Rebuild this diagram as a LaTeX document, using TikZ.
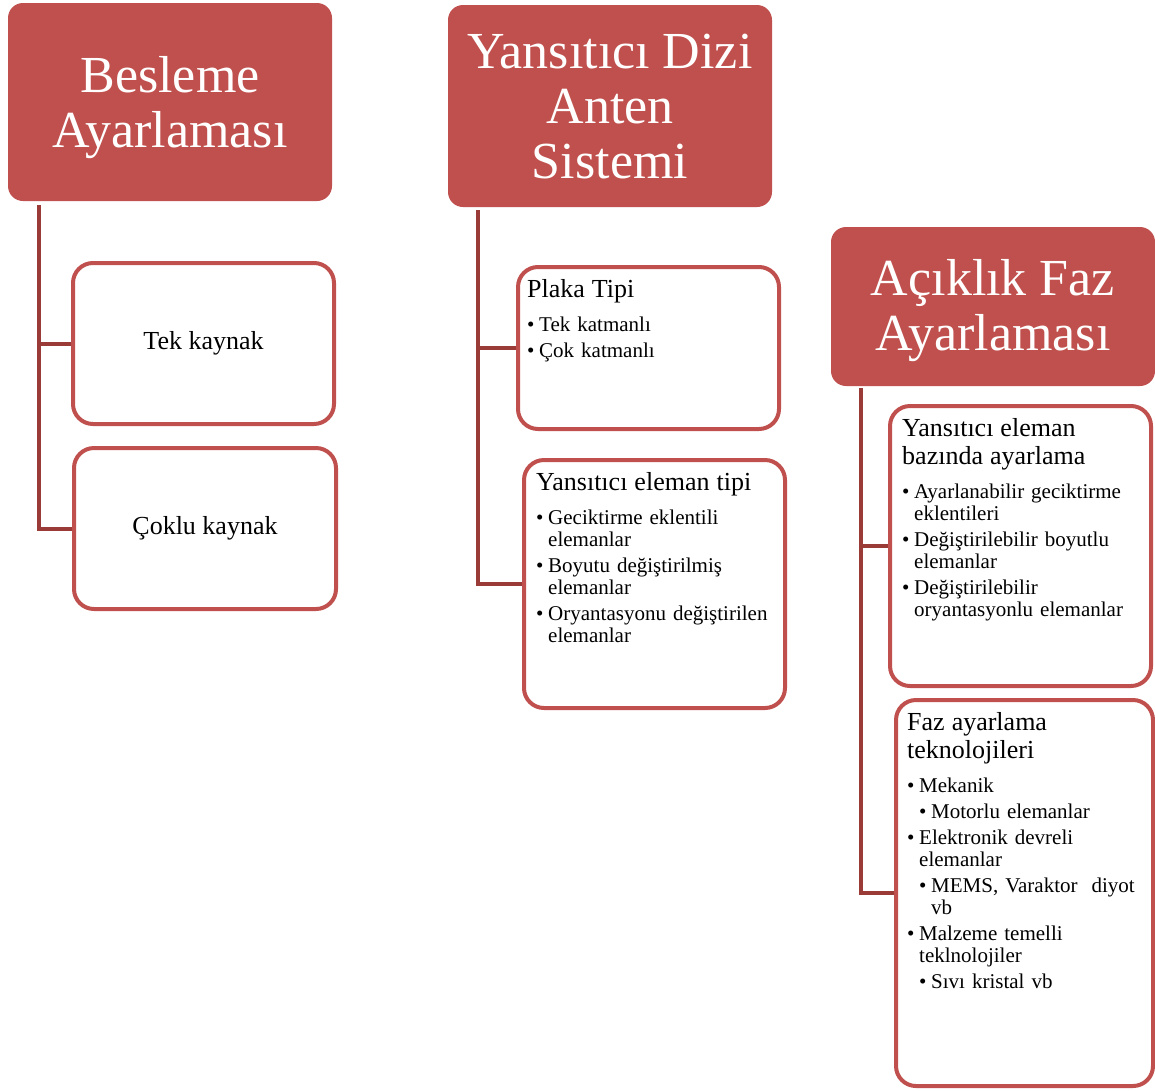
\documentclass[tikz,border=0pt]{standalone}
\usepackage{fontspec}
\setmainfont{Liberation Serif}
\definecolor{headred}{HTML}{C0504D}
\definecolor{linkred}{HTML}{9B3B38}
\newcommand{\bitem}[1]{\par\vspace{4pt}\hangindent=12pt\hangafter=1\noindent\makebox[12pt][l]{\textbullet}#1}
\newcommand{\bsubitem}[1]{\par\vspace{4pt}\hangindent=24pt\hangafter=1\noindent\hspace*{12pt}\makebox[12pt][l]{\textbullet}#1}
\newcommand{\btitle}[1]{{\fontsize{26}{28}\selectfont #1\par}\vspace{8pt}}
\tikzset{
  head/.style={fill=headred, rounded corners=15pt, inner sep=0pt},
  headtext/.style={text=white, align=center, inner sep=0pt, font=\fontsize{52}{55}\selectfont},
  leaf/.style={draw=headred, fill=white, line width=4pt, rounded corners=20pt, inner sep=0pt, font=\fontsize{26}{28}\selectfont},
  leaftext/.style={anchor=north west, inner sep=0pt, text width=250pt, align=left, font=\fontsize{21}{22}\selectfont},
  conn/.style={draw=linkred, line width=4pt}
}
\begin{document}
\begin{tikzpicture}[x=1pt, y=-1pt, line join=miter]
    \useasboundingbox (0,0) rectangle (1155,1090);
    % basliklar
    \node[head, minimum width=324pt, minimum height=198pt] (besleme) at (170,102) {};
    \node[head, minimum width=324pt, minimum height=202pt] (anten) at (610,106) {};
    \node[head, minimum width=324pt, minimum height=159pt] (faz) at (993,306.5) {};
    \node[headtext] (beslemetxt) at ([yshift=-6pt]besleme.center) {Besleme\\Ayarlaması};
    \node[headtext] (antentxt) at ([yshift=-1pt]anten.center) {Yansıtıcı Dizi\\Anten\\Sistemi};
    \node[headtext] (faztxt) at ([yshift=-4pt]faz.center) {Açıklık Faz\\Ayarlaması};
    % baglantilar
    \draw[conn] ([xshift=-131pt,yshift=-4pt]besleme.south) |- (273,343.5) coordinate (b1);
    \draw[conn] ([xshift=-131pt,yshift=-4pt]besleme.south) |- (273,528.5) coordinate (b2);
    \draw[conn] ([xshift=-132pt,yshift=-3pt]anten.south) |- (700,348) coordinate (a1);
    \draw[conn] ([xshift=-132pt,yshift=-3pt]anten.south) |- (700,584) coordinate (a2);
    \draw[conn] ([xshift=-132pt,yshift=-2pt]faz.south) |- (1000,546) coordinate (f1);
    \draw[conn] ([xshift=-132pt,yshift=-2pt]faz.south) |- (1000,893) coordinate (f2);
    % alt kutular
    \node[leaf, minimum width=261pt, minimum height=161pt] (tek) at (203.5,343.5) {Tek kaynak};
    \node[leaf, minimum width=262pt, minimum height=161pt] (coklu) at (205,528.5) {Çoklu kaynak};
    \node[leaf, minimum width=261pt, minimum height=162pt] (plaka) at (648.5,348) {};
    \node[leaf, minimum width=261pt, minimum height=248pt] (tipi) at (654.5,584) {};
    \node[leaf, minimum width=261pt, minimum height=280pt] (bazinda) at (1020.5,546) {};
    \node[leaf, minimum width=257pt, minimum height=386pt] (teknoloji) at (1024.5,893) {};
    % kutu yazilari
    \node[leaftext] (plakatxt) at (527,279) {\btitle{Plaka Tipi}
      \bitem{Tek katmanlı}
      \bitem{Çok katmanlı}\par};
    \node[leaftext] (tipitxt) at (536,472) {\btitle{Yansıtıcı eleman tipi}
      \bitem{Geciktirme eklentili\newline elemanlar}
      \bitem{Boyutu değiştirilmiş\newline elemanlar}
      \bitem{Oryantasyonu değiştirilen\newline elemanlar}\par};
    \node[leaftext] (bazindatxt) at (902,418) {\btitle{Yansıtıcı eleman\\bazında ayarlama}
      \bitem{Ayarlanabilir geciktirme\newline eklentileri}
      \bitem{Değiştirilebilir boyutlu\newline elemanlar}
      \bitem{Değiştirilebilir\newline oryantasyonlu elemanlar}\par};
    \node[leaftext] (teknolojitxt) at (907,712) {\btitle{Faz ayarlama\\teknolojileri}
      \bitem{Mekanik}
      \bsubitem{Motorlu elemanlar}
      \bitem{Elektronik devreli\newline elemanlar}
      \bsubitem{MEMS, Varaktor~ diyot\newline vb}
      \bitem{Malzeme temelli\newline teklnolojiler}
      \bsubitem{Sıvı kristal vb}\par};
\end{tikzpicture}
\end{document}
